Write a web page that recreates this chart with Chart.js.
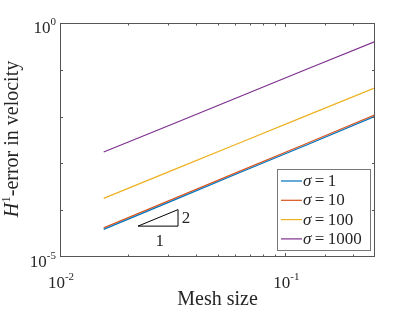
<!DOCTYPE html>
<html>
<head>
<meta charset="utf-8">
<script src="https://cdn.jsdelivr.net/npm/chart.js@4.4.1/dist/chart.umd.min.js"></script>
<style>
    html, body { margin: 0; padding: 0; background: #fff; }
</style>
</head>
<body>
<canvas id="errorChart" width="415" height="312"></canvas>
<script>
// Mesh sizes (x) and H1 errors (y)
const meshSize = [0.015625, 0.03125, 0.0625, 0.125, 0.25];
const sigmaValues = ['1', '10', '100', '1000'];
const errSigma1 = [3.9e-5, 1.56e-4, 6.3e-4, 2.5e-3, 1.01e-2];
const errSigma10 = [4.2e-5, 1.68e-4, 6.75e-4, 2.7e-3, 1.09e-2];
const errSigma100 = [1.79e-4, 7.0e-4, 2.72e-3, 1.06e-2, 4.1e-2];
const errSigma1000 = [1.75e-3, 6.8e-3, 2.65e-2, 0.104, 0.40];
const lineColors = ['#0072BD', '#D95319', '#EDB120', '#7E2F8E'];

// Slope triangle (order 2)
const triangleX = [0.0222, 0.0334, 0.0334, 0.0222];
const triangleY = [4.57e-5, 4.57e-5, 1.03e-4, 4.57e-5];
const slopeLabelText = ['2', '1'];
const slopeLabelX = [0.0362, 0.0277];
const slopeLabelY = [6.8e-5, 2.15e-5];

// Tick labels (base 10, exponent)
const xTickValues = [0.01, 0.1];
const xTickExps = ['-2', '-1'];
const yTickValues = [1, 1e-5];
const yTickExps = ['0', '-5'];

const SERIF = '"Liberation Serif", "DejaVu Serif", serif';
const INK = '#262626';

function toPoints(xs, ys) {
    return xs.map((x, i) => ({ x: x, y: ys[i] }));
}

// draw a list of text pieces one after another
function drawPieces(ctx, pieces, x, y, align) {
    let total = 0;
    pieces.forEach(p => { ctx.font = p.font; total += ctx.measureText(p.text).width; });
    let cx = x;
    if (align === 'center') cx = x - total / 2;
    if (align === 'right') cx = x - total;
    ctx.textAlign = 'left';
    ctx.textBaseline = 'alphabetic';
    pieces.forEach(p => {
        ctx.font = p.font;
        ctx.fillText(p.text, cx, y + (p.dy || 0));
        cx += ctx.measureText(p.text).width;
    });
}

function powerLabel(exp) {
    return [
        { text: '10', font: '17px ' + SERIF },
        { text: exp, font: '11px ' + SERIF, dy: -8 }
    ];
}

const matlabAxes = {
    id: 'matlabAxes',
    afterDraw(chart) {
        const ctx = chart.ctx;
        const area = chart.chartArea;
        const xs = chart.scales.x;
        const ys = chart.scales.y;
        ctx.save();

        // inward ticks, bottom and top
        ctx.strokeStyle = '#555';
        ctx.lineWidth = 1;
        ctx.beginPath();
        xs.ticks.forEach(t => {
            if (t.value <= xs.min * 1.0001 || t.value >= xs.max * 0.9999) return;
            const lg = Math.log10(t.value);
            const major = Math.abs(lg - Math.round(lg)) < 1e-6;
            const len = major ? 4 : 2.5;
            const px = Math.round(xs.getPixelForValue(t.value)) + 0.5;
            ctx.moveTo(px, area.bottom);
            ctx.lineTo(px, area.bottom - len);
            ctx.moveTo(px, area.top);
            ctx.lineTo(px, area.top + len);
        });
        ys.ticks.forEach(t => {
            const lg = Math.log10(t.value);
            if (Math.abs(lg - Math.round(lg)) > 1e-6) return;
            if (t.value <= ys.min * 1.0001 || t.value >= ys.max * 0.9999) return;
            const py = Math.round(ys.getPixelForValue(t.value)) + 0.5;
            ctx.moveTo(area.left, py);
            ctx.lineTo(area.left + 3, py);
            ctx.moveTo(area.right, py);
            ctx.lineTo(area.right - 3, py);
        });
        ctx.stroke();

        // box
        ctx.strokeRect(Math.round(area.left) + 0.5, Math.round(area.top) + 0.5,
            Math.round(area.right - area.left) - 1, Math.round(area.bottom - area.top) - 1);

        // tick labels
        ctx.fillStyle = INK;
        xTickValues.forEach((v, i) => {
            drawPieces(ctx, powerLabel(xTickExps[i]), xs.getPixelForValue(v) + 1, area.bottom + 31, 'center');
        });
        yTickValues.forEach((v, i) => {
            drawPieces(ctx, powerLabel(yTickExps[i]), area.left - 4, ys.getPixelForValue(v) + 10, 'right');
        });

        // axis titles
        ctx.font = '20px ' + SERIF;
        ctx.textAlign = 'center';
        ctx.textBaseline = 'alphabetic';
        ctx.fillText('Mesh size', (area.left + area.right) / 2, 305);

        ctx.save();
        ctx.translate(18, (area.top + area.bottom) / 2 - 1);
        ctx.rotate(-Math.PI / 2);
        drawPieces(ctx, [
            { text: 'H', font: 'italic 20px ' + SERIF },
            { text: '1', font: '13px ' + SERIF, dy: -8 },
            { text: '-error in velocity', font: '20px ' + SERIF }
        ], 0, 0, 'center');
        ctx.restore();

        // slope triangle labels
        ctx.font = '17px ' + SERIF;
        ctx.textAlign = 'center';
        ctx.textBaseline = 'middle';
        slopeLabelText.forEach((s, i) => {
            ctx.fillText(s, xs.getPixelForValue(slopeLabelX[i]), ys.getPixelForValue(slopeLabelY[i]));
        });

        // legend, lower right
        const lw = 93, lh = 81;
        const lx = Math.round(area.right) - 5 - lw;
        const ly = Math.round(area.bottom) - 7 - lh;
        ctx.fillStyle = '#fff';
        ctx.fillRect(lx, ly, lw, lh);
        ctx.strokeStyle = '#777';
        ctx.strokeRect(lx + 0.5, ly + 0.5, lw, lh);
        sigmaValues.forEach((s, i) => {
            const ds = chart.data.datasets[i];
            const ry = ly + 12 + i * 19.3;
            ctx.strokeStyle = ds.borderColor;
            ctx.lineWidth = 1.2;
            ctx.beginPath();
            ctx.moveTo(lx + 4, ry);
            ctx.lineTo(lx + 25, ry);
            ctx.stroke();
            ctx.fillStyle = INK;
            drawPieces(ctx, [
                { text: '\u03c3', font: 'italic 17px ' + SERIF },
                { text: '\u2009=\u2009' + s, font: '17px ' + SERIF }
            ], lx + 26, ry + 5, 'left');
        });

        ctx.restore();
    }
};

const datasets = [errSigma1, errSigma10, errSigma100, errSigma1000].map((errs, i) => ({
    label: '\u03c3 = ' + sigmaValues[i],
    data: toPoints(meshSize, errs),
    borderColor: lineColors[i],
    borderWidth: 1.2,
    pointRadius: 0,
    fill: false,
    tension: 0
}));
datasets.push({
    label: 'slope',
    data: toPoints(triangleX, triangleY),
    borderColor: '#000',
    borderWidth: 1,
    pointRadius: 0,
    fill: false,
    tension: 0
});

const errorChart = new Chart(document.getElementById('errorChart'), {
    type: 'line',
    data: { datasets: datasets },
    options: {
        responsive: false,
        animation: false,
        devicePixelRatio: 1,
        layout: { padding: { top: 23, right: 40, left: 0, bottom: 0 } },
        plugins: {
            legend: { display: false },
            tooltip: { enabled: false }
        },
        scales: {
            x: {
                type: 'logarithmic',
                min: 0.01,
                max: 0.25,
                ticks: { display: false },
                grid: { display: false },
                border: { display: false },
                afterFit: scale => { scale.height = 55; }
            },
            y: {
                type: 'logarithmic',
                min: 1e-5,
                max: 1,
                ticks: { display: false },
                grid: { display: false },
                border: { display: false },
                afterFit: scale => { scale.width = 60; }
            }
        }
    },
    plugins: [matlabAxes]
});
</script>
</body>
</html>
